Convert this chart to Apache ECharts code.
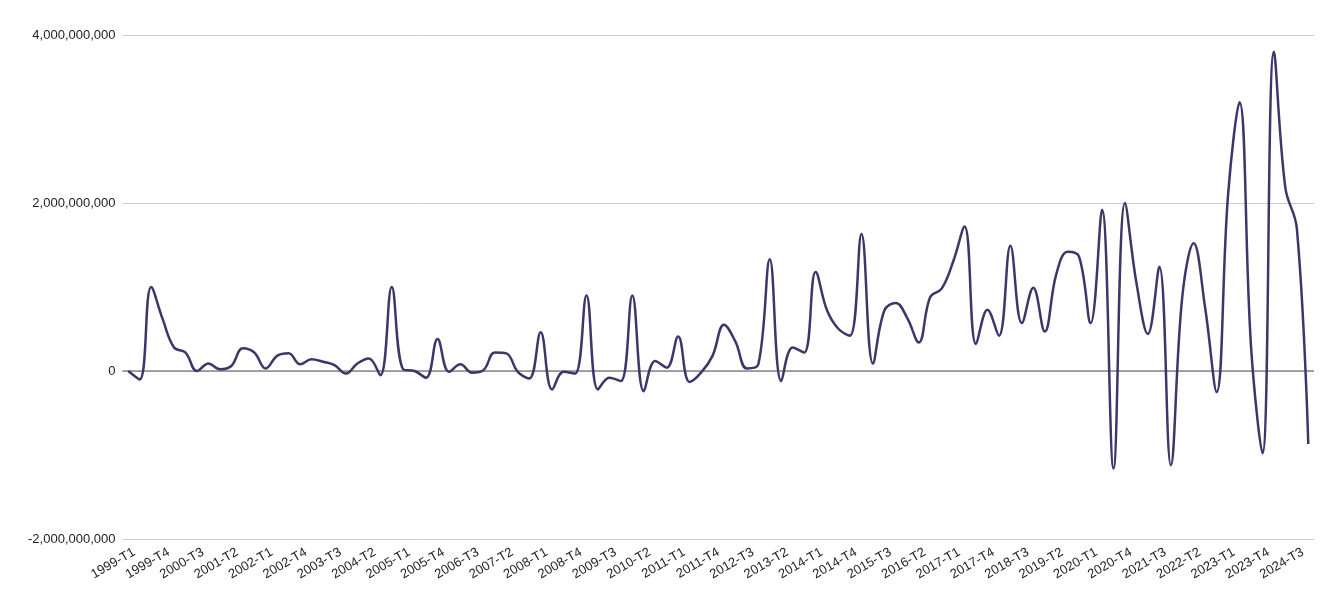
<!DOCTYPE html>
<html>
<head>
<meta charset="utf-8">
<script src="https://cdn.jsdelivr.net/npm/echarts@6/dist/echarts.min.js"></script>
<style>
  html, body { margin: 0; padding: 0; background: #fff; }
  #chart { width: 1340px; height: 603px; }
</style>
</head>
<body>
<div id="chart"></div>
<script>
// quarters 1999-T1 .. 2024-T4
var startYear = 1999;
var endYear = 2024;

// values in billions, one per quarter
var values = [
  0, -0.1, 1.0, 0.62, 0.28, 0.22, 0.0, 0.09, 0.02, 0.06,
  0.27, 0.22, 0.03, 0.18, 0.21, 0.08, 0.14, 0.11, 0.07, -0.03,
  0.09, 0.15, -0.05, 1.0, 0.02, 0.0, -0.08, 0.38, -0.01, 0.08,
  -0.02, 0.01, 0.22, 0.21, -0.01, -0.09, 0.46, -0.22, -0.01, -0.03,
  0.90, -0.22, -0.08, -0.12, 0.90, -0.24, 0.12, 0.04, 0.41, -0.13,
  -0.02, 0.18, 0.55, 0.35, 0.03, 0.08, 1.33, -0.12, 0.28, 0.22,
  1.18, 0.72, 0.50, 0.42, 1.63, 0.09, 0.72, 0.81, 0.63, 0.34,
  0.88, 0.98, 1.30, 1.72, 0.32, 0.73, 0.42, 1.49, 0.57, 0.99,
  0.47, 1.15, 1.42, 1.36, 0.57, 1.92, -1.16, 2.00, 1.05, 0.44,
  1.24, -1.12, 0.88, 1.52, 0.75, -0.25, 2.1, 3.2, 0.3, -0.98,
  3.8, 2.18, 1.7, -0.87
];

var yMin = -2000000000;
var yMax = 4000000000;
var yStep = 2000000000;

var categories = [];
for (var y = startYear; y <= endYear; y++) {
  for (var q = 1; q <= 4; q++) {
    categories.push(y + '-T' + q);
  }
}

var chart = echarts.init(document.getElementById('chart'));

var option = {
  animation: false,
  textStyle: { fontFamily: 'Liberation Sans, Arial, sans-serif' },
  grid: {
    left: 122.5,
    right: 26,
    top: 35,
    bottom: 64,
    containLabel: false
  },
  xAxis: {
    type: 'category',
    data: categories,
    boundaryGap: true,
    axisLine: { show: false },
    axisTick: { show: false },
    axisLabel: {
      interval: 2,
      rotate: 30,
      margin: 2,
      color: '#222',
      fontSize: 13,
      // push the slanted text a little to the right, like the original
      formatter: function (v) { return '{t|' + v + '}'; },
      rich: {
        t: { padding: [24, 0, 0, 0], fontSize: 13, color: '#222' }
      }
    },
    splitLine: { show: false }
  },
  yAxis: {
    type: 'value',
    min: yMin,
    max: yMax,
    interval: yStep,
    axisLine: { show: false },
    axisTick: { show: false },
    axisLabel: {
      color: '#222',
      fontSize: 13,
      margin: 7,
      formatter: function (v) {
        return v.toLocaleString('en-US');
      }
    },
    splitLine: { lineStyle: { color: '#cccccc', width: 1 } }
  },
  series: [{
    type: 'line',
    data: values.map(function (v) { return v * 1e9; }),
    smooth: 0.4,
    symbol: 'none',
    lineStyle: { color: '#3b3769', width: 2.5 },
    markLine: {
      silent: true,
      symbol: 'none',
      label: { show: false },
      lineStyle: { color: '#888888', type: 'solid', width: 1.5 },
      data: [{ yAxis: 0 }],
      z: 1
    },
    z: 3
  }]
};

chart.setOption(option);
</script>
</body>
</html>
